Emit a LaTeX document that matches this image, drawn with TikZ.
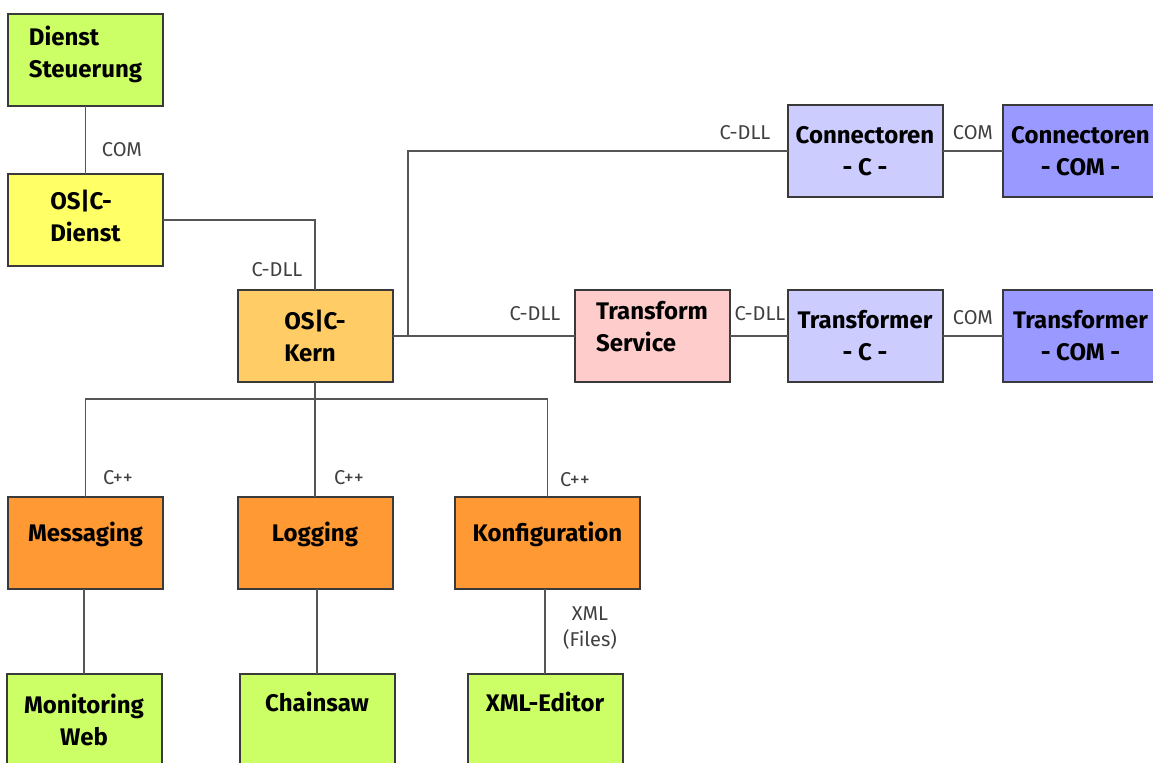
\documentclass[tikz,border=0pt]{standalone}
\usepackage{fontspec}
\setmainfont{Fira Sans}

\definecolor{gruen}{HTML}{CCFF66}
\definecolor{gelb}{HTML}{FFFF66}
\definecolor{kernorange}{HTML}{FFCC66}
\definecolor{orange}{HTML}{FF9933}
\definecolor{hellblau}{HTML}{CCCCFF}
\definecolor{blau}{HTML}{9999FF}
\definecolor{rosa}{HTML}{FFCCCC}
\definecolor{rand}{HTML}{3A3A3A}
\definecolor{linie}{HTML}{555555}

\begin{document}
\begin{tikzpicture}[x=0.5pt,y=-0.5pt,
    box/.style={draw=rand, line width=1pt, minimum width=77.5pt, minimum height=46pt,
        inner sep=2pt, outer sep=0pt, font=\bfseries\fontsize{12}{16}\selectfont},
    tief/.style={text depth=18pt},
    halb/.style={text depth=11pt},
    conn/.style={draw=linie, line width=0.9pt},
    lab/.style={inner sep=0pt, text=black!75, font=\fontsize{10}{13}\selectfont}]
    \useasboundingbox (0,0) rectangle (1153,762);
    \clip (0,0) rectangle (1153,762);
    % Dienst
    \node[box, fill=gruen, align=left, text depth=8pt] (steuer) at (85.5,60) {Dienst\\Steuerung};
    \node[box, fill=gelb, align=left, text depth=4pt] (dienst) at (85.5,220) {OS|C-\\Dienst};
    \node[box, fill=kernorange, align=left] (kern) at (315,336) {OS|C-\\Kern};
    % Connectoren / Transformer
    \node[box, fill=hellblau, align=center] (conC) at (865,151) {Connectoren\\- C -};
    \node[box, fill=blau, align=center] (conCOM) at (1080.5,151) {Connectoren\\- COM -};
    \node[box, fill=rosa, align=left, text depth=10pt] (trans) at (652,336) {Transform\\Service};
    \node[box, fill=hellblau, align=center] (trC) at (865,336) {Transformer\\- C -};
    \node[box, fill=blau, align=center] (trCOM) at (1080.5,336) {Transformer\\- COM -};
    % Module
    \node[box, fill=orange, halb] (msg) at (85.5,543) {Messaging};
    \node[box, fill=orange, halb] (log) at (315,543) {Logging};
    \node[box, fill=orange, halb, minimum width=92.5pt] (konf) at (547.5,543) {Konfiguration};
    % Werkzeuge
    \node[box, fill=gruen, align=center] (mon) at (84,720) {Monitoring\\Web};
    \node[box, fill=gruen, tief] (saw) at (317,720) {Chainsaw};
    \node[box, fill=gruen, tief] (xml) at (545,720) {XML-Editor};

    \coordinate (br) at (408,336);
    \coordinate (bus) at (315,399);

    \draw[conn] (steuer.south) -- (dienst.north);
    \draw[conn] (dienst.east) -| (kern.north);
    \draw[conn] (kern.east) -- (trans.west);
    \draw[conn] (br) |- (conC.west);
    \draw[conn] (conC.east) -- (conCOM.west);
    \draw[conn] (trans.east) -- (trC.west);
    \draw[conn] (trC.east) -- (trCOM.west);
    \draw[conn] (kern.south) -- (log.north);
    \draw[conn] (msg.north) |- (bus) -| (konf.north);
    \draw[conn] (mon.north |- msg.south) -- (mon.north);
    \draw[conn] (saw.north |- log.south) -- (saw.north);
    \draw[conn] (xml.north |- konf.south) -- (xml.north);

    % Beschriftungen
    \node[lab] (lcom1) at (122,150) {COM};
    \node[lab] (ldll1) at (277,270) {C-DLL};
    \node[lab] (ldll2) at (535,314) {C-DLL};
    \node[lab] (ldll3) at (745,133) {C-DLL};
    \node[lab] (lcom2) at (973,133) {COM};
    \node[lab] (ldll4) at (760,314) {C-DLL};
    \node[lab] (lcom3) at (973,318) {COM};
    \node[lab] (lcpp1) at (118,478) {C++};
    \node[lab] (lcpp2) at (349,478) {C++};
    \node[lab] (lcpp3) at (575,480) {C++};
    \node[lab, align=center] (lxml) at (590,628) {XML\\(Files)};
\end{tikzpicture}
\end{document}
